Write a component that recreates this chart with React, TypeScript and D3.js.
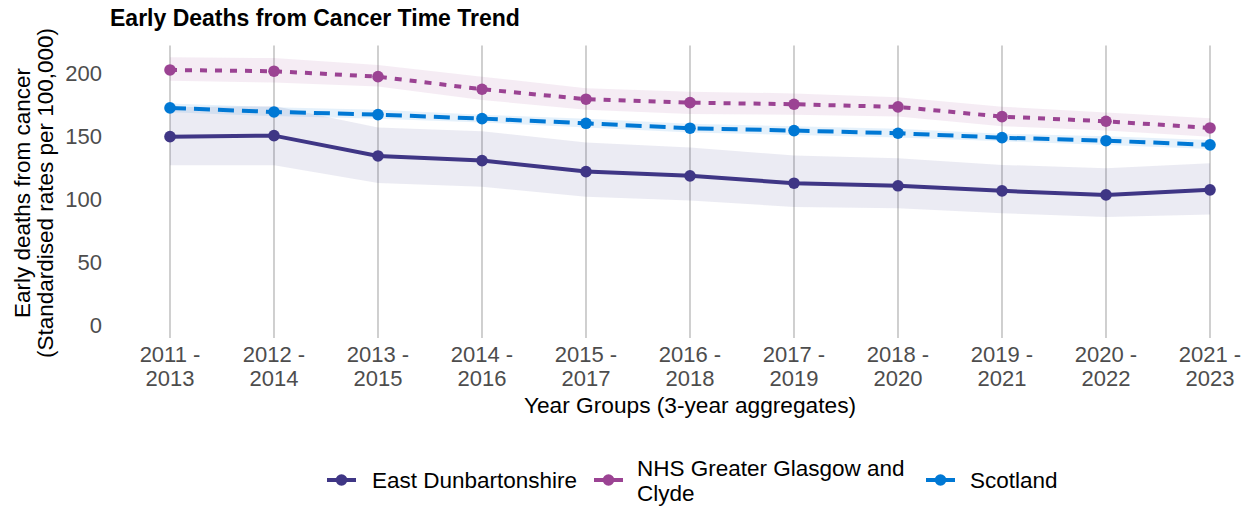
import React from 'react';
import * as d3 from 'd3';

const categories = [
  '2011 - 2013', '2012 - 2014', '2013 - 2015', '2014 - 2016', '2015 - 2017', '2016 - 2018',
  '2017 - 2019', '2018 - 2020', '2019 - 2021', '2020 - 2022', '2021 - 2023',
];

const eastDun = [149.7, 150.5, 134.4, 130.7, 122.0, 118.6, 112.8, 110.7, 106.7, 103.5, 107.5];
const eastDunLower = [127, 127, 113, 110, 102, 99, 94, 93, 89, 86, 88];
const eastDunUpper = [173, 174, 157, 154, 145, 141, 134.7, 132.6, 127.3, 124.7, 128.6];

const ggc = [202.6, 201.6, 197.3, 187.3, 179.4, 176.7, 175.4, 173.3, 165.6, 161.9, 156.6];
const ggcLower = [194, 192.6, 189.4, 178.8, 171, 167.7, 167, 165.6, 158, 154.5, 149.7];
const ggcUpper = [212.7, 212, 206.6, 197.3, 188, 185.4, 184, 181, 173.5, 168.8, 164.3];

const scotland = [172.5, 169.3, 167.2, 164, 160.3, 156.4, 154.5, 152.4, 148.9, 146.5, 143.2];
const scotlandLower = [169, 166, 164, 161, 157, 153, 151, 149, 146, 143, 140];
const scotlandUpper = [176, 173, 171, 167, 164, 160, 158, 156, 152, 150, 147];

const yTicks = [0, 50, 100, 150, 200];

const FONT = '"Liberation Sans", Arial, Helvetica, sans-serif';

const series = [
  { name: 'East Dunbartonshire', values: eastDun, lower: eastDunLower, upper: eastDunUpper, color: '#3F3685', dash: null },
  { name: 'NHS Greater Glasgow and Clyde', values: ggc, lower: ggcLower, upper: ggcUpper, color: '#9B4393', dash: '7,8' },
  { name: 'Scotland', values: scotland, lower: scotlandLower, upper: scotlandUpper, color: '#0078D4', dash: '16,8' },
];

export default function App() {
  const width = 1252;
  const height = 507;

  const x = d3.scalePoint<string>().domain(categories).range([170, 1210]);
  const y = d3.scaleLinear().domain([-10, 222]).range([338, 45.5]);

  const line = d3.line<number>()
    .x((_, i) => x(categories[i]) as number)
    .y((d) => y(d));

  return (
    <svg width={width} height={height} style={{ display: 'block', position: 'absolute', left: 0, top: 0 }} fontFamily={FONT}>
      <rect width={width} height={height} fill="#fff" />
      <text x={110} y={26} fontSize={23} fontWeight="bold" fill="#000">Early Deaths from Cancer Time Trend</text>

      {/* vertical grid */}
      {categories.map((c) => (
        <line key={c} x1={x(c)} x2={x(c)} y1={y.range()[1]} y2={y.range()[0]} stroke="#c4c4c4" strokeWidth={1.6} />
      ))}

      {/* CI bands */}
      {series.map((s) => {
        const area = d3.area<number>()
          .x((_, i) => x(categories[i]) as number)
          .y0((_, i) => y(s.lower[i]))
          .y1((_, i) => y(s.upper[i]));
        return <path key={s.name + 'band'} d={area(s.values) || ''} fill={s.color} fillOpacity={0.1} />;
      })}

      {/* lines + points */}
      {series.map((s) => (
        <g key={s.name}>
          <path d={line(s.values) || ''} fill="none" stroke={s.color} strokeWidth={4}
            strokeDasharray={s.dash || undefined} />
          {s.values.map((v, i) => (
            <circle key={i} cx={x(categories[i])} cy={y(v)} r={5.8} fill={s.color} />
          ))}
        </g>
      ))}

      {/* y axis ticks */}
      {yTicks.map((t) => (
        <text key={t} x={102} y={y(t)} dy="0.36em" textAnchor="end" fontSize={22} fill="#4D4D4D">{t}</text>
      ))}

      {/* x axis ticks */}
      {categories.map((c) => {
        const [a, b] = c.split(' - ');
        return (
          <text key={c} textAnchor="middle" fontSize={22} fill="#4D4D4D">
            <tspan x={x(c)} y={362}>{a + ' -'}</tspan>
            <tspan x={x(c)} y={386}>{b}</tspan>
          </text>
        );
      })}

      <text x={690} y={413} textAnchor="middle" fontSize={22.7} fill="#000">Year Groups (3-year aggregates)</text>

      <g transform="translate(0,193) rotate(-90)" fontSize={22.5} fill="#000">
        <text x={0} y={30} textAnchor="middle">Early deaths from cancer</text>
        <text x={0} y={53} textAnchor="middle">(Standardised rates per 100,000)</text>
      </g>

      {/* legend */}
      {[
        { s: series[0], kx: 327, tx: 372, lines: ['East Dunbartonshire'] },
        { s: series[1], kx: 594, tx: 637, lines: ['NHS Greater Glasgow and', 'Clyde'] },
        { s: series[2], kx: 926, tx: 970, lines: ['Scotland'] },
      ].map(({ s, kx, tx, lines }) => (
        <g key={s.name + 'leg'}>
          <line x1={kx} x2={kx + 29} y1={480} y2={480} stroke={s.color} strokeWidth={4} />
          <circle cx={kx + 14.5} cy={480} r={5.8} fill={s.color} />
          <text fontSize={22.5} fill="#000">
            {lines.map((l, i) => (
              <tspan key={l} x={tx} y={lines.length === 1 ? 488 : 476 + i * 25}>{l}</tspan>
            ))}
          </text>
        </g>
      ))}
    </svg>
  );
}
